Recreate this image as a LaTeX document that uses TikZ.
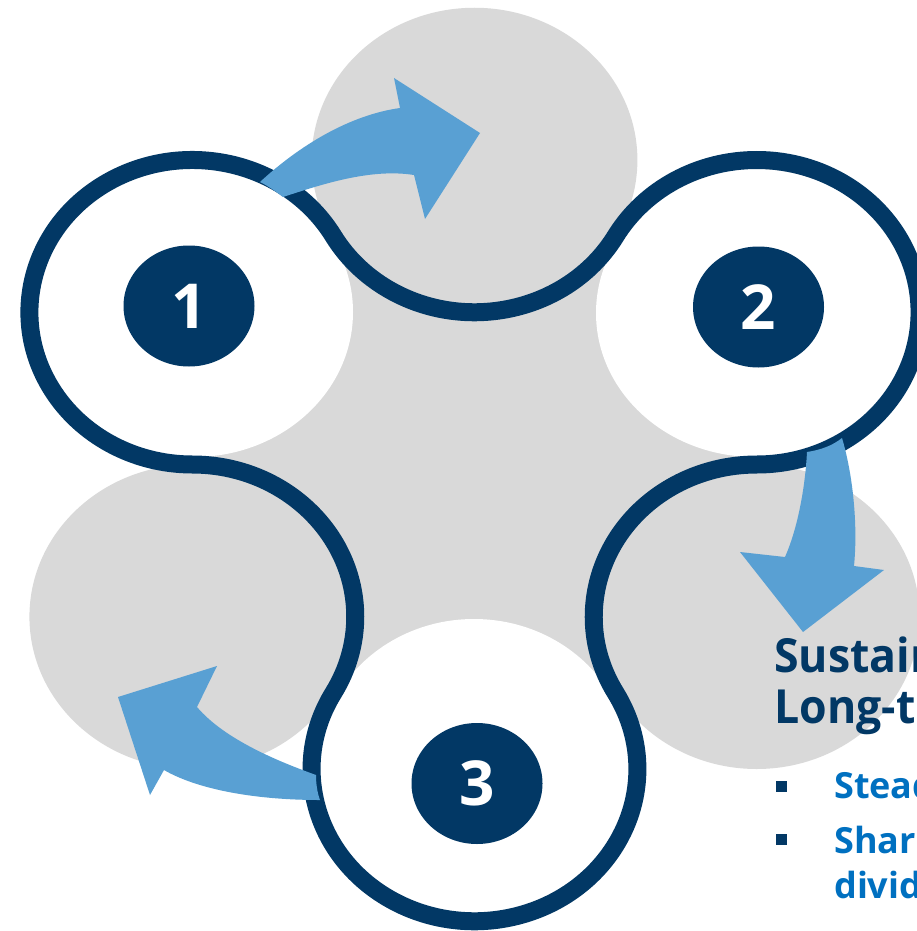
\documentclass[tikz,border=0pt]{standalone}
\usepackage{fontspec}
\setmainfont{Open Sans}
\newfontfamily\headfont{Open Sans}[FakeStretch=0.95]
\definecolor{navy}{RGB}{2,56,101}
\definecolor{greyfill}{RGB}{217,217,217}
\definecolor{arrowblue}{RGB}{89,160,211}
\definecolor{textblue}{RGB}{0,112,192}
\tikzset{
  numdisc/.style={fill=navy},
  numlabel/.style={text=white, inner sep=0pt, font=\fontsize{62}{62}\selectfont\bfseries},
  headline/.style={anchor=base west, inner sep=0pt, text=navy, font=\headfont\fontsize{47}{47}\selectfont\bfseries},
  bullettext/.style={anchor=base west, inner sep=0pt, text=textblue, font=\fontsize{36}{36}\selectfont\bfseries},
  bulletmark/.style={fill=navy, inner sep=0pt, minimum size=11pt},
  curvedarrow/.style={fill=arrowblue},
  ring/.style={draw=navy, line width=18pt}
}
\begin{document}
\begin{tikzpicture}[x=1pt,y=-1pt]
\useasboundingbox (0,0) rectangle (917,931);
\clip (0,0) rectangle (917,931);
\def\outlinepath{(-131.85,228.375)
  arc[start angle=30,end angle=270,radius=152.25]
  arc[start angle=90,end angle=-30,radius=152.25]
  arc[start angle=150,end angle=390,radius=152.25]
  arc[start angle=210,end angle=90,radius=152.25]
  arc[start angle=270,end angle=510,radius=152.25]
  arc[start angle=330,end angle=210,radius=152.25] -- cycle}
% grey background shapes
\begin{scope}[shift={(474.5pt,-464.5pt)}, x={(1.07pt,0pt)}, y={(0pt,1pt)}]
  \fill[greyfill] \outlinepath;
  \fill[greyfill] (0,304.5) circle[radius=152.25];
  \fill[greyfill] (-263.7,-152.25) circle[radius=152.25];
  \fill[greyfill] (263.7,-152.25) circle[radius=152.25];
\end{scope}
% white discs
\fill[white] (194,312) ellipse[x radius=159, y radius=145];
\fill[white] (755,313) ellipse[x radius=159, y radius=144];
\fill[white] (474,767) ellipse[x radius=157, y radius=148];
% ring outline
\begin{scope}[shift={(474.5pt,-464.5pt)}, x={(1.07pt,0pt)}, y={(0pt,1pt)}]
  \draw[ring] \outlinepath;
\end{scope}
% arrows
\fill[curvedarrow] (260,182) .. controls (300,145) and (350,115) .. (400,108)
  -- (394,78) -- (480,133) -- (425,219) -- (414,175)
  .. controls (370,168) and (320,185) .. (283,197)
  .. controls (275,191) and (268,186) .. (260,182) -- cycle;
\fill[curvedarrow] (842,438) .. controls (853,475) and (858,525) .. (854,566)
  -- (884,570) -- (803,632) -- (740,552) -- (785,557)
  .. controls (797,530) and (805,490) .. (807,452)
  .. controls (820,450) and (832,446) .. (842,438) -- cycle;
\fill[curvedarrow] (316,775) .. controls (280,762) and (225,740) .. (197,707)
  -- (217,666) -- (118,697) -- (150,795) -- (164,770)
  .. controls (195,788) and (250,800) .. (320,800)
  .. controls (317,792) and (316,783) .. (316,775) -- cycle;
% number discs
\fill[numdisc] (189,306) ellipse[x radius=65.5, y radius=60.5];
\fill[numdisc] (758.5,307) ellipse[x radius=65.5, y radius=60.5];
\fill[numdisc] (477,783.5) ellipse[x radius=65.5, y radius=60.5];
\node[numlabel] (n1) at (189,306) {1};
\node[numlabel] (n2) at (758.5,307) {2};
\node[numlabel] (n3) at (477,783.5) {3};
% text
\node[headline] (h1) at (774,672) {Sustain};
\node[headline] (h2) at (774,723) {Long-t};
\node[bulletmark] (b1) at (781,786) {};
\node[bulletmark] (b2) at (781,839) {};
\node[bullettext] (s1) at (834,798) {Stead};
\node[bullettext] (s2) at (834,853) {Shar};
\node[bullettext] (s3) at (834,898) {divid};
\end{tikzpicture}
\end{document}
